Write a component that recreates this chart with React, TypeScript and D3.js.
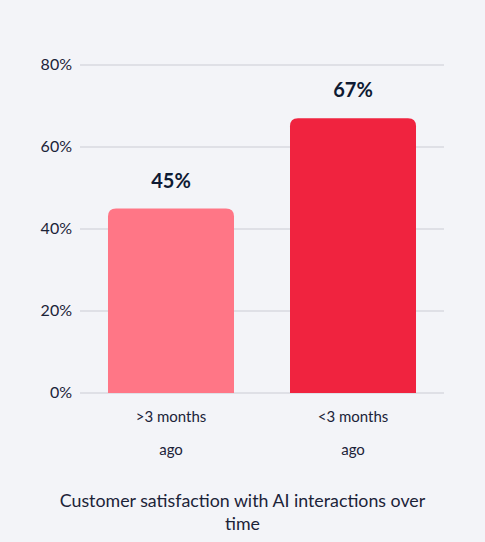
import React, { useEffect, useRef } from "react";
import * as d3 from "d3";

const categories = [">3 months ago", "<3 months ago"];
const values = [45, 67];
const barColors = ["#FF7686", "#F0233F"];
const yTicks = [0, 20, 40, 60, 80];
const title = "Customer satisfaction with AI interactions over time";

const width = 485;
const height = 542;
const margin = { top: 65, right: 41, bottom: 149, left: 80 };
const font = "Lato, 'Open Sans', sans-serif";

export default function App() {
    const svgRef = useRef<SVGSVGElement>(null);

    useEffect(() => {
        document.body.style.margin = "0";
        document.body.style.overflow = "hidden";

        const svg = d3.select(svgRef.current);
        svg.selectAll("*").remove();

        const innerWidth = width - margin.left - margin.right;
        const innerHeight = height - margin.top - margin.bottom;

        svg.append("rect")
            .attr("width", width)
            .attr("height", height)
            .attr("fill", "#F3F4F8");

        const g = svg.append("g")
            .attr("transform", `translate(${margin.left},${margin.top})`);

        const x = d3.scaleBand()
            .domain(categories)
            .range([0, innerWidth])
            .paddingInner(0.3077)
            .paddingOuter(0.1538);

        const y = d3.scaleLinear().domain([0, 80]).range([innerHeight, 0]);

        // grid lines
        g.selectAll(".grid")
            .data(yTicks)
            .enter()
            .append("line")
            .attr("x1", 0)
            .attr("x2", innerWidth)
            .attr("y1", (d) => y(d))
            .attr("y2", (d) => y(d))
            .attr("stroke", "#DFE0E6")
            .attr("stroke-width", 2);

        g.selectAll(".ytick")
            .data(yTicks)
            .enter()
            .append("text")
            .attr("x", -8)
            .attr("y", (d) => y(d))
            .attr("dy", "0.3em")
            .attr("text-anchor", "end")
            .attr("font-family", font)
            .attr("font-size", 16)
            .attr("fill", "#1B2338")
            .text((d) => `${d}%`);

        // bars with rounded top corners
        const r = 8;
        g.selectAll(".bar")
            .data(values)
            .enter()
            .append("path")
            .attr("d", (d, i) => {
                const x0 = x(categories[i]) as number;
                const x1 = x0 + x.bandwidth();
                const y0 = y(d);
                const yb = y(0);
                return `M${x0},${yb}V${y0 + r}Q${x0},${y0} ${x0 + r},${y0}H${x1 - r}Q${x1},${y0} ${x1},${y0 + r}V${yb}Z`;
            })
            .attr("fill", (d, i) => barColors[i]);

        g.selectAll(".val")
            .data(values)
            .enter()
            .append("text")
            .attr("x", (d, i) => (x(categories[i]) as number) + x.bandwidth() / 2)
            .attr("y", (d) => y(d) - 21)
            .attr("text-anchor", "middle")
            .attr("font-family", font)
            .attr("font-size", 20)
            .attr("font-weight", "bold")
            .attr("fill", "#0E1A33")
            .text((d) => `${d}%`);

        // category labels, wrapped to two lines
        categories.forEach((c, i) => {
            const cx = (x(c) as number) + x.bandwidth() / 2;
            const words = c.split(" ");
            const lines = [words.slice(0, 2).join(" "), words.slice(2).join(" ")];
            lines.forEach((line, j) => {
                g.append("text")
                    .attr("x", cx)
                    .attr("y", innerHeight + 29 + j * 33)
                    .attr("text-anchor", "middle")
                    .attr("font-family", font)
                    .attr("font-size", 15)
                    .attr("fill", "#1B2338")
                    .text(line);
            });
        });

        const titleLines = [title.split(" ").slice(0, -1).join(" "), title.split(" ").slice(-1)[0]];
        titleLines.forEach((line, j) => {
            svg.append("text")
                .attr("x", width / 2)
                .attr("y", 507 + j * 23)
                .attr("text-anchor", "middle")
                .attr("font-family", font)
                .attr("font-size", 17.8)
                .attr("fill", "#1B2338")
                .text(line);
        });
    }, []);

    return (
        <svg ref={svgRef} width={width} height={height} style={{ display: "block" }} />
    );
}
